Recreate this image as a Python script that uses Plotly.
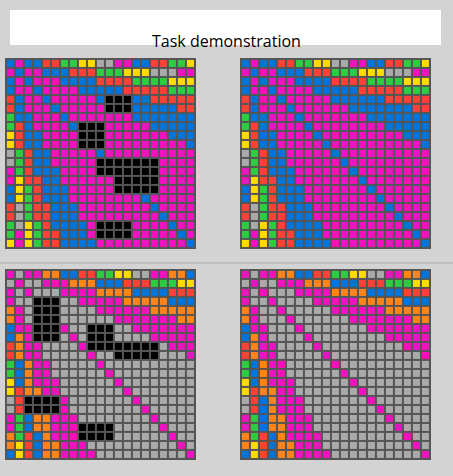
import plotly.graph_objects as go
from plotly.subplots import make_subplots

# ARC colour letters: K black, B blue, R red, G green, Y yellow, A gray, M magenta, O orange
top_input = [
    "BMBBRRGGYYAAMMBBRRGGY",
    "MBMMBBBRRRGGGYYYAAAMM",
    "BMBMMMBBBBRRRRGGGGYYY",
    "BMMBMMMMBBBBBRRRRRGGG",
    "RBMMBMMMMMBKKKBBRRRRR",
    "RBMMMBMMMMMKKKBBBBBRR",
    "GBBMMMBMMMMMMMBBBBBBB",
    "GRBMMMMBKKKMMMMMBBBBB",
    "YRBBMMMMKKKMMMMMMMBBB",
    "YRBBMMMMKKKMMMMMMMMMB",
    "AGRBBMMMMMBMMMMMMMMMM",
    "AGRBBMMMMMKKKKKKKMMMM",
    "MGRBBBMMMMKKKKKKKMMMM",
    "MYRRBBMMMMMMKKKKKMMMM",
    "BYGRBBBMMMMMKKKKKMMMM",
    "BYGRBBBMMMMMMMMBMMMMM",
    "RAGRRBBBMMMMMMMMBMMMM",
    "RAGRRBBBMMMMMMMMMBMMM",
    "GAYGRBBBBMKKKKMMMMBMM",
    "GMYGRRBBBMKKKKMMMMMBM",
    "YMYGRRBBBBMMMMMMMMMMB",
]
top_output = [
    "BMBBRRGGYYAAMMBBRRGGY",
    "MBMMBBBRRRGGGYYYAAAMM",
    "BMBMMMBBBBRRRRGGGGYYY",
    "BMMBMMMMBBBBBRRRRRGGG",
    "RBMMBMMMMMBBBBBBRRRRR",
    "RBMMMBMMMMMMBBBBBBBRR",
    "GBBMMMBMMMMMMMBBBBBBB",
    "GRBMMMMBMMMMMMMMBBBBB",
    "YRBBMMMMBMMMMMMMMMBBB",
    "YRBBMMMMMBMMMMMMMMMMB",
    "AGRBBMMMMMBMMMMMMMMMM",
    "AGRBBMMMMMMBMMMMMMMMM",
    "MGRBBBMMMMMMBMMMMMMMM",
    "MYRRBBMMMMMMMBMMMMMMM",
    "BYGRBBBMMMMMMMBMMMMMM",
    "BYGRBBBMMMMMMMMBMMMMM",
    "RAGRRBBBMMMMMMMMBMMMM",
    "RAGRRBBBMMMMMMMMMBMMM",
    "GAYGRBBBBMMMMMMMMMBMM",
    "GMYGRRBBBMMMMMMMMMMBM",
    "YMYGRRBBBBMMMMMMMMMMB",
]
bottom_input = [
    "MAMMOOBBRRGGYYAAMMOOB",
    "AMAAMMMOOOBBBRRRGGGYY",
    "MAMAAAMMMMOOOOBBBBRRR",
    "MAAKKKAAMMMMMOOOOOBBB",
    "OMAKKKAAAAMMMMMMOOOOO",
    "OMAKKKAAAAAAMMMMMMMOO",
    "BMMKKKMAAKKKAAMMMMMMM",
    "BOMKKKAMAKKKAAAAMMMMM",
    "ROMMAAAAMKKKKKKKKAMMM",
    "ROMMAAAAAMAAKKKKKAAAM",
    "GBOMMAAAAAMAAAAAAAAAA",
    "GBOMMAAAAAAMAAAAAAAAA",
    "YBOMMMAAAAAAMAAAAAAAA",
    "YROOMMAAAAAAAMAAAAAAA",
    "ARKKKKMAAAAAAAMAAAAAA",
    "ARKKKKMAAAAAAAAMAAAAA",
    "MGBOOMMMAAAAAAAAMAAAA",
    "MGBOOMMMKKKKAAAAAMAAA",
    "OGRBOMMMKKKKAAAAAAMAA",
    "OYRBOOMMMAAAAAAAAAAMA",
    "BYRBOOMMMMAAAAAAAAAAM",
]
bottom_output = [
    "MAMMOOBBRRGGYYAAMMOOB",
    "AMAAMMMOOOBBBRRRGGGYY",
    "MAMAAAMMMMOOOOBBBBRRR",
    "MAAMAAAAMMMMMOOOOOBBB",
    "OMAAMAAAAAMMMMMMOOOOO",
    "OMAAAMAAAAAAMMMMMMMOO",
    "BMMAAAMAAAAAAAMMMMMMM",
    "BOMAAAAMAAAAAAAAMMMMM",
    "ROMMAAAAMAAAAAAAAAMMM",
    "ROMMAAAAAMAAAAAAAAAAM",
    "GBOMMAAAAAMAAAAAAAAAA",
    "GBOMMAAAAAAMAAAAAAAAA",
    "YBOMMMAAAAAAMAAAAAAAA",
    "YROOMMAAAAAAAMAAAAAAA",
    "ARBOMMMAAAAAAAMAAAAAA",
    "ARBOMMMAAAAAAAAMAAAAA",
    "MGBOOMMMAAAAAAAAMAAAA",
    "MGBOOMMMAAAAAAAAAMAAA",
    "OGRBOMMMMAAAAAAAAAMAA",
    "OYRBOOMMMAAAAAAAAAAMA",
    "BYRBOOMMMMAAAAAAAAAAM",
]

letters = "KBRGYAMO"
colors = ["#000000", "#0074D9", "#FF4136", "#2ECC40", "#FFDC00",
          "#AAAAAA", "#F012BE", "#FF851B"]

n = len(colors)
scale = []
for i, c in enumerate(colors):
    scale.append([i / n, c])
    scale.append([(i + 1) / n, c])

W, H = 453, 476

fig = make_subplots(rows=2, cols=2)
grids = [top_input, top_output, bottom_input, bottom_output]
for k, g in enumerate(grids):
    z = [[letters.index(ch) for ch in row] for row in g]
    fig.add_trace(go.Heatmap(z=z, colorscale=scale, zmin=-0.5, zmax=n - 0.5,
                             showscale=False, xgap=2, ygap=2, hoverinfo="skip"),
                  row=k // 2 + 1, col=k % 2 + 1)

xdom = [(5, 196), (240, 431)]
ydom = [(58, 249), (269, 460)]
for k in range(4):
    x0, x1 = xdom[k % 2]
    y0, y1 = ydom[k // 2]
    sfx = "" if k == 0 else str(k + 1)
    fig.layout["xaxis" + sfx].update(domain=[x0 / W, x1 / W], range=[-0.6, 20.6],
                                     visible=False, fixedrange=True)
    fig.layout["yaxis" + sfx].update(domain=[1 - y1 / H, 1 - y0 / H], range=[20.6, -0.6],
                                     visible=False, fixedrange=True)

fig.add_shape(type="rect", xref="paper", yref="paper",
              x0=10 / W, x1=441 / W, y0=1 - 45 / H, y1=1 - 10 / H,
              fillcolor="white", line_width=0, layer="below")
fig.add_shape(type="line", xref="paper", yref="paper",
              x0=0, x1=1, y0=1 - 263 / H, y1=1 - 263 / H,
              line=dict(color="#aaaaaa", width=1))
fig.add_annotation(text="Task demonstration", xref="paper", yref="paper",
                   x=0.5, y=1 - 27.5 / H, showarrow=False,
                   font=dict(family="Open Sans", size=16, color="black"))

fig.update_layout(width=W, height=H, margin=dict(l=0, r=0, t=0, b=0),
                  paper_bgcolor="#d3d3d3", plot_bgcolor="#555555")

fig.write_html("out.html", config={"displayModeBar": False},
               post_script="document.body.style.margin='0px';document.body.style.overflow='hidden';")
